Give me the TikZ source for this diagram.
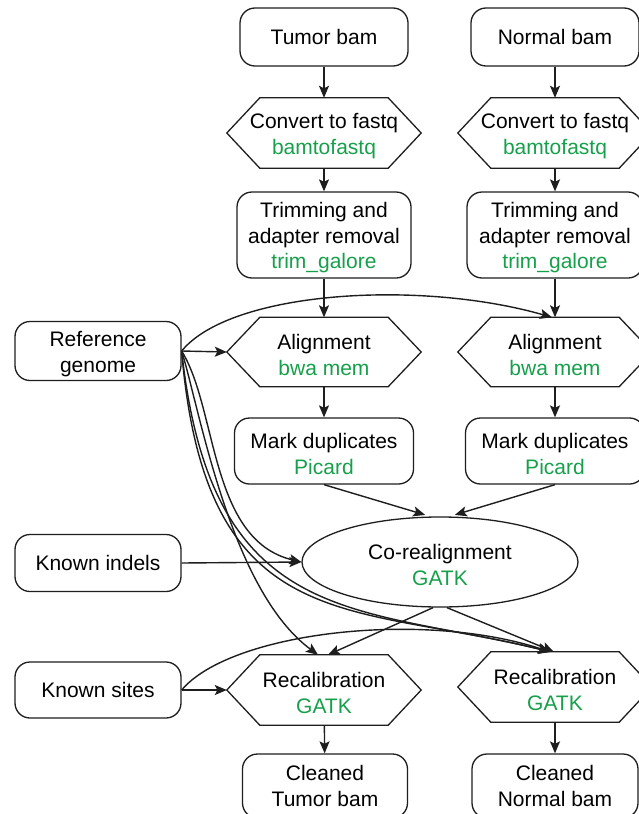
\documentclass[tikz,border=0pt]{standalone}
\usepackage{fontspec}
\setmainfont{Liberation Sans}
\usetikzlibrary{shapes.geometric,arrows.meta}
\definecolor{tgreen}{RGB}{22,160,75}
\definecolor{ink}{RGB}{30,30,30}
\newcommand{\grn}[1]{\textcolor{tgreen}{#1}}
\newcommand{\sx}{\rule{0pt}{21pt}}
\begin{document}
\begin{tikzpicture}[x=1pt,y=-1pt,
  every node/.style={font=\fontsize{21}{25.5}\selectfont, align=center, inner sep=0pt},
  rbox/.style={draw=ink, line width=1.3pt, rounded corners=15pt},
  hexnode/.style={minimum width=194pt, minimum height=70pt},
  arr/.style={draw=ink, line width=1.4pt, -{Stealth[length=12pt,width=10pt,inset=2.5pt]}}]
\fill[white] (0,0) rectangle (639,814);
\useasboundingbox (0,0) rectangle (639,814);
\clip (0,0) rectangle (639,814);

% left column (tumor)
\node[rbox, minimum width=168pt, minimum height=58pt] (tumor) at (324,37) {Tumor bam};
\node[hexnode] (convT) at (324,133) {\sx Convert to fastq\\\grn{bamtofastq}};
\node[rbox, minimum width=174pt, minimum height=86pt] (trimT) at (324,235) {\sx Trimming and\\adapter removal\\\grn{trim\_galore}};
\node[hexnode, minimum height=69pt] (alnT) at (324,352) {\sx Alignment\\\grn{bwa mem}};
\node[rbox, minimum width=179pt, minimum height=66pt] (mdT) at (324,451) {\sx Mark duplicates\\\grn{Picard}};
\node[hexnode] (recT) at (324,690) {\sx Recalibration\\\grn{GATK}};
\node[rbox, minimum width=165pt, minimum height=64pt] (clT) at (325,786) {Cleaned\\Tumor bam};

% right column (normal)
\node[rbox, minimum width=168pt, minimum height=58pt] (normal) at (555,37) {Normal bam};
\node[hexnode] (convN) at (555,133) {\sx Convert to fastq\\\grn{bamtofastq}};
\node[rbox, minimum width=176pt, minimum height=86pt] (trimN) at (555,235) {\sx Trimming and\\adapter removal\\\grn{trim\_galore}};
\node[hexnode, minimum height=69pt] (alnN) at (555,352) {\sx Alignment\\\grn{bwa mem}};
\node[rbox, minimum width=179pt, minimum height=66pt] (mdN) at (555,451) {\sx Mark duplicates\\\grn{Picard}};
\node[hexnode] (recN) at (555,687) {\sx Recalibration\\\grn{GATK}};
\node[rbox, minimum width=166pt, minimum height=64pt] (clN) at (555,786) {Cleaned\\Normal bam};

% inputs
\node[rbox, minimum width=166pt, minimum height=59pt] (ref) at (98,351) {\sx Reference\\genome};
\node[rbox, minimum width=166pt, minimum height=57pt] (indels) at (98,563) {Known indels};
\node[rbox, minimum width=166pt, minimum height=56pt] (sites) at (98,690) {Known sites};

% co-realignment
\node[ellipse, draw=ink, line width=1.3pt, minimum width=276pt, minimum height=90pt] (co) at (440,562) {\sx Co-realignment\\\grn{GATK}};

% hexagon outlines
\foreach \n in {convT,convN,alnT,alnN,recT,recN}
  \draw[ink, line width=1.3pt] ([xshift=33pt]\n.north west) -- ([xshift=-33pt]\n.north east) -- (\n.east)
    -- ([xshift=-33pt]\n.south east) -- ([xshift=33pt]\n.south west) -- (\n.west) -- cycle;

% vertical flows
\draw[arr] (tumor) -- (convT);
\draw[arr] (convT) -- (trimT);
\draw[arr] (trimT) -- (alnT);
\draw[arr] (alnT) -- (mdT);
\draw[arr] (recT) -- (clT);
\draw[arr] (normal) -- (convN);
\draw[arr] (convN) -- (trimN);
\draw[arr] (trimN) -- (alnN);
\draw[arr] (alnN) -- (mdN);
\draw[arr] (recN) -- (clN);

% mark duplicates to co-realignment
\draw[arr, shorten >=5pt] (mdT.south) -- ([xshift=-10pt]co.north);
\draw[arr, shorten >=5pt] (mdN.south) -- ([xshift=10pt]co.north);

% co-realignment to recalibration
\draw[arr] ([xshift=-7pt]co.south) -- ([xshift=4pt]recT.north);
\draw[arr] ([xshift=7pt]co.south) -- ([xshift=-1pt]recN.north);

% reference genome
\draw[arr] (ref.east) -- (alnT.west);
\draw[arr] (ref.east) .. controls +(49,-60) and +(-133,-38) .. ([xshift=-3pt]alnN.north);
\draw[arr] (ref.east) .. controls +(36,58) and +(-92,-22) .. (co.west);
\draw[arr] (ref.east) .. controls +(18,58) and +(-88,-65) .. ([xshift=-6pt]recT.north);
\draw[arr] (ref.east) .. controls +(24,288) and +(-200,-50) .. ([xshift=-5pt]recN.north);
\draw[arr] (ref.east) .. controls +(30,278) and +(-195,-47) .. ([xshift=-4pt]recN.north);

% known indels / sites
\draw[arr] (indels.east) -- (co.west);
\draw[arr] (sites.east) -- (recT.west);
\draw[arr] (sites.east) .. controls +(49,-58) and +(-128,-42) .. ([xshift=-5pt]recN.north);
\end{tikzpicture}
\end{document}
